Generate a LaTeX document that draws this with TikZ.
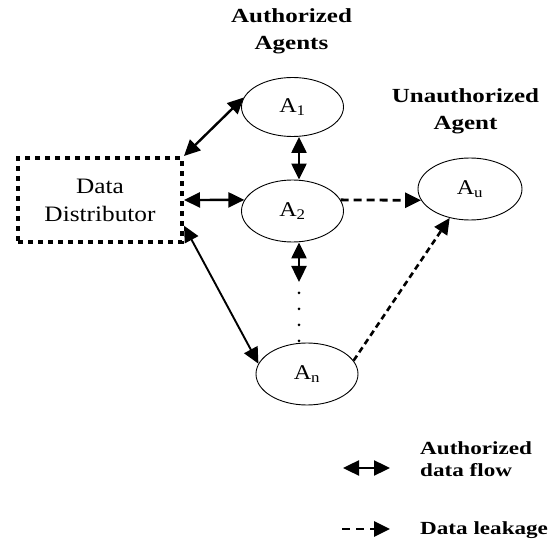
\documentclass[tikz,border=0pt]{standalone}
\usepackage{fontspec}
\setmainfont{Liberation Serif}[FakeStretch=1.25]
\newfontfamily\regfont{Liberation Serif}[FakeStretch=1.15]
\usetikzlibrary{arrows.meta,shapes.geometric,calc}
\begin{document}
\begin{tikzpicture}[x=1pt,y=-1pt,
  >={Triangle[length=16pt,width=15pt]},
  agent/.style={draw,ellipse,line width=0.9pt,minimum width=102pt,minimum height=61pt,inner sep=0pt,font=\regfont\fontsize{21}{22}\selectfont},
  ttl/.style={font=\bfseries\fontsize{20}{27}\selectfont,align=center,inner sep=0pt},
  lgd/.style={font=\bfseries\fontsize{18.5}{22}\selectfont,align=left,inner sep=0pt},
  flow/.style={line width=2.4pt,<->},
  leak/.style={line width=2.8pt,dash pattern=on 8pt off 5pt,->},
  single/.style={line width=1.9pt,<->},
  ddbox/.style={draw,line width=4pt,dash pattern=on 5pt off 5pt,minimum width=164pt,minimum height=84pt,align=center,inner sep=0pt,font=\regfont\fontsize{22}{28}\selectfont}
]
\useasboundingbox (0,0) rectangle (550,540);
\node[ttl,anchor=base] (t1) at (291.5,50) {Authorized\\Agents};
\node[ttl,anchor=base] (t2) at (465.5,130) {Unauthorized\\Agent};
\node[ddbox] (dd) at (100,200) {Data\\Distributor};
\node[agent,minimum height=59pt] (a1) at (292.5,107) {A\textsubscript{1}};
\node[agent,minimum height=62pt] (a2) at (292.5,211) {A\textsubscript{2}};
\node[agent,minimum height=62pt] (an) at (307,374) {A\textsubscript{n}};
\node[agent,minimum width=104pt,minimum height=62pt] (au) at (470,189) {A\textsubscript{u}};
\coordinate (mid) at (299,282);
\draw[flow] (dd.north east) -- (a1.169);
\draw[flow] (dd.east) -- (a2.167);
\draw[single] (dd.-17) -- (an.168);
\draw[flow] ([xshift=6.5pt]a1.south) -- ([xshift=6.5pt]a2.north);
\draw[flow] ([xshift=6.5pt]a2.south) -- (mid);
\draw[line width=3pt,line cap=round,dash pattern=on 0pt off 16pt] ([yshift=-11pt]mid) -- (an.north -| mid);
\draw[leak] (a2.13) -- (au.193);
\draw[leak,line width=2.6pt,dash pattern=on 6pt off 4pt] (an.16) -- (au.235);
\coordinate (l1a) at (343,468);
\coordinate (l1b) at (390,468);
\coordinate (l2a) at (342,529);
\coordinate (l2b) at (390,529);
\draw[flow] (l1a) -- (l1b);
\draw[leak,dash pattern=on 8pt off 6pt] (l2a) -- (l2b);
\node[lgd,anchor=base west] (lg1) at (420,477) {Authorized\\data flow};
\node[lgd,anchor=base west] (lg2) at (420,535) {Data leakage};
\end{tikzpicture}
\end{document}
